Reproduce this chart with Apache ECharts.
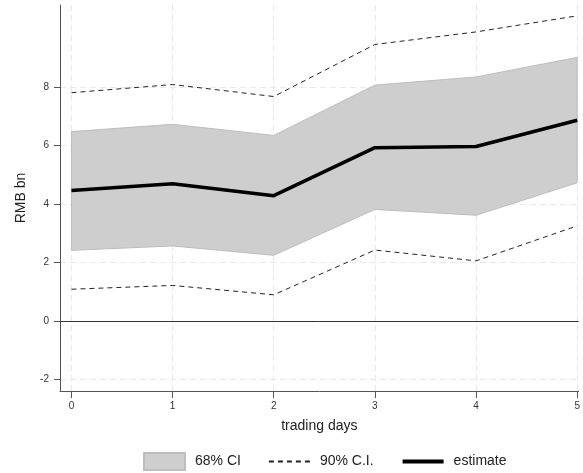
<!DOCTYPE html>
<html>
<head>
<meta charset="utf-8">
<script src="https://cdn.jsdelivr.net/npm/echarts@6/dist/echarts.min.js"></script>
<style>
  html, body { margin: 0; padding: 0; background: #fff; }
  #main { width: 583px; height: 473px; }
</style>
</head>
<body>
<div id="main"></div>
<script>
// data
var days = [0, 1, 2, 3, 4, 5];
var estimate = [4.46, 4.69, 4.28, 5.92, 5.96, 6.86];
var ci68Lower = [2.41, 2.56, 2.24, 3.81, 3.61, 4.72];
var ci68Upper = [6.47, 6.72, 6.34, 8.06, 8.34, 9.01];
var ci90Lower = [1.08, 1.21, 0.89, 2.42, 2.05, 3.25];
var ci90Upper = [7.80, 8.08, 7.67, 9.45, 9.88, 10.43];
var yTicks = [-2, 0, 2, 4, 6, 8];
var xTicks = [0, 1, 2, 3, 4, 5];

var font = 'Liberation Sans, Arial, sans-serif';

function pairs(ys) {
	return days.map(function (d, i) { return [d, ys[i]]; });
}

var chart = echarts.init(document.getElementById('main'), null, { renderer: 'canvas' });

// band data: [x, lower, upper]
var bandData = days.map(function (d, i) { return [d, ci68Lower[i], ci68Upper[i]]; });

var option = {
	animation: false,
	grid: { left: 60, right: 0, top: 5, bottom: 82 },
	legend: {
		left: 143,
		top: 452,
		padding: 0,
		itemWidth: 41,
		itemHeight: 17,
		itemGap: 27,
		textStyle: { fontFamily: font, fontSize: 14, color: '#222', padding: [0, 0, 0, 5] },
		data: [
			{ name: '68% CI', icon: 'rect' },
			{ name: '90% C.I.', itemStyle: { opacity: 0 } },
			{ name: 'estimate', itemStyle: { opacity: 0 }, lineStyle: { width: 4, color: '#000' } }
		]
	},
	xAxis: {
		type: 'value',
		min: -0.113,
		max: 5.014,
		name: 'trading days',
		nameLocation: 'middle',
		nameGap: 28,
		nameTextStyle: { fontFamily: font, fontSize: 14, color: '#222' },
		axisLine: { show: true, onZero: false, lineStyle: { color: '#555', width: 1 } },
		axisTick: { show: true, length: 7, customValues: xTicks, lineStyle: { color: '#555' } },
		axisLabel: { customValues: xTicks, fontFamily: font, fontSize: 10, color: '#333', margin: 10 },
		splitLine: { show: false }
	},
	yAxis: {
		type: 'value',
		min: -2.4,
		max: 10.8,
		name: 'RMB bn',
		nameLocation: 'middle',
		nameGap: 32,
		nameTextStyle: { fontFamily: font, fontSize: 14, color: '#222' },
		axisLine: { show: true, onZero: false, lineStyle: { color: '#555', width: 1 } },
		axisTick: { show: true, length: 6, customValues: yTicks, lineStyle: { color: '#555' } },
		axisLabel: { customValues: yTicks, fontFamily: font, fontSize: 10, color: '#333', margin: 11 },
		splitLine: { show: false }
	},
	series: [
		{
			// light dashed grid lines, below the band
			name: 'grid',
			type: 'line',
			data: [],
			z: 0,
			silent: true,
			markLine: {
				z: 0,
				silent: true,
				symbol: 'none',
				label: { show: false },
				lineStyle: { color: '#e8e8e8', width: 1, type: [6, 4] },
				data: yTicks.map(function (v) { return { yAxis: v }; })
					.concat(xTicks.map(function (v) { return { xAxis: v }; }))
			}
		},
		{
			name: '68% CI',
			type: 'custom',
			z: 1,
			itemStyle: { color: '#cecece', borderColor: '#bdbdbd', borderWidth: 1 },
			data: bandData,
			encode: { x: 0, y: [1, 2] },
			renderItem: function (params, api) {
				if (params.dataIndex !== 0) return;
				var top = [], bottom = [];
				for (var i = 0; i < bandData.length; i++) {
					top.push(api.coord([bandData[i][0], bandData[i][2]]));
					bottom.push(api.coord([bandData[i][0], bandData[i][1]]));
				}
				return {
					type: 'polygon',
					shape: { points: top.concat(bottom.reverse()) },
					style: { fill: '#cecece', stroke: '#bdbdbd', lineWidth: 1 }
				};
			}
		},
		{
			// zero reference line
			name: 'zero',
			type: 'line',
			data: [],
			z: 2,
			silent: true,
			markLine: {
				z: 2,
				silent: true,
				symbol: 'none',
				label: { show: false },
				lineStyle: { color: '#333', width: 1, type: 'solid' },
				data: [{ yAxis: 0 }]
			}
		},
		{
			name: '90% C.I.',
			type: 'line',
			z: 3,
			data: pairs(ci90Upper),
			symbol: 'none',
			itemStyle: { color: '#222' },
			lineStyle: { color: '#222', width: 1, type: [5, 4] }
		},
		{
			name: '90% C.I.',
			type: 'line',
			z: 3,
			data: pairs(ci90Lower),
			symbol: 'none',
			itemStyle: { color: '#222' },
			lineStyle: { color: '#222', width: 1, type: [5, 4] }
		},
		{
			name: 'estimate',
			type: 'line',
			z: 4,
			data: pairs(estimate),
			symbol: 'none',
			itemStyle: { color: '#000' },
			lineStyle: { color: '#000', width: 3.5 }
		}
	]
};

chart.setOption(option);
</script>
</body>
</html>
